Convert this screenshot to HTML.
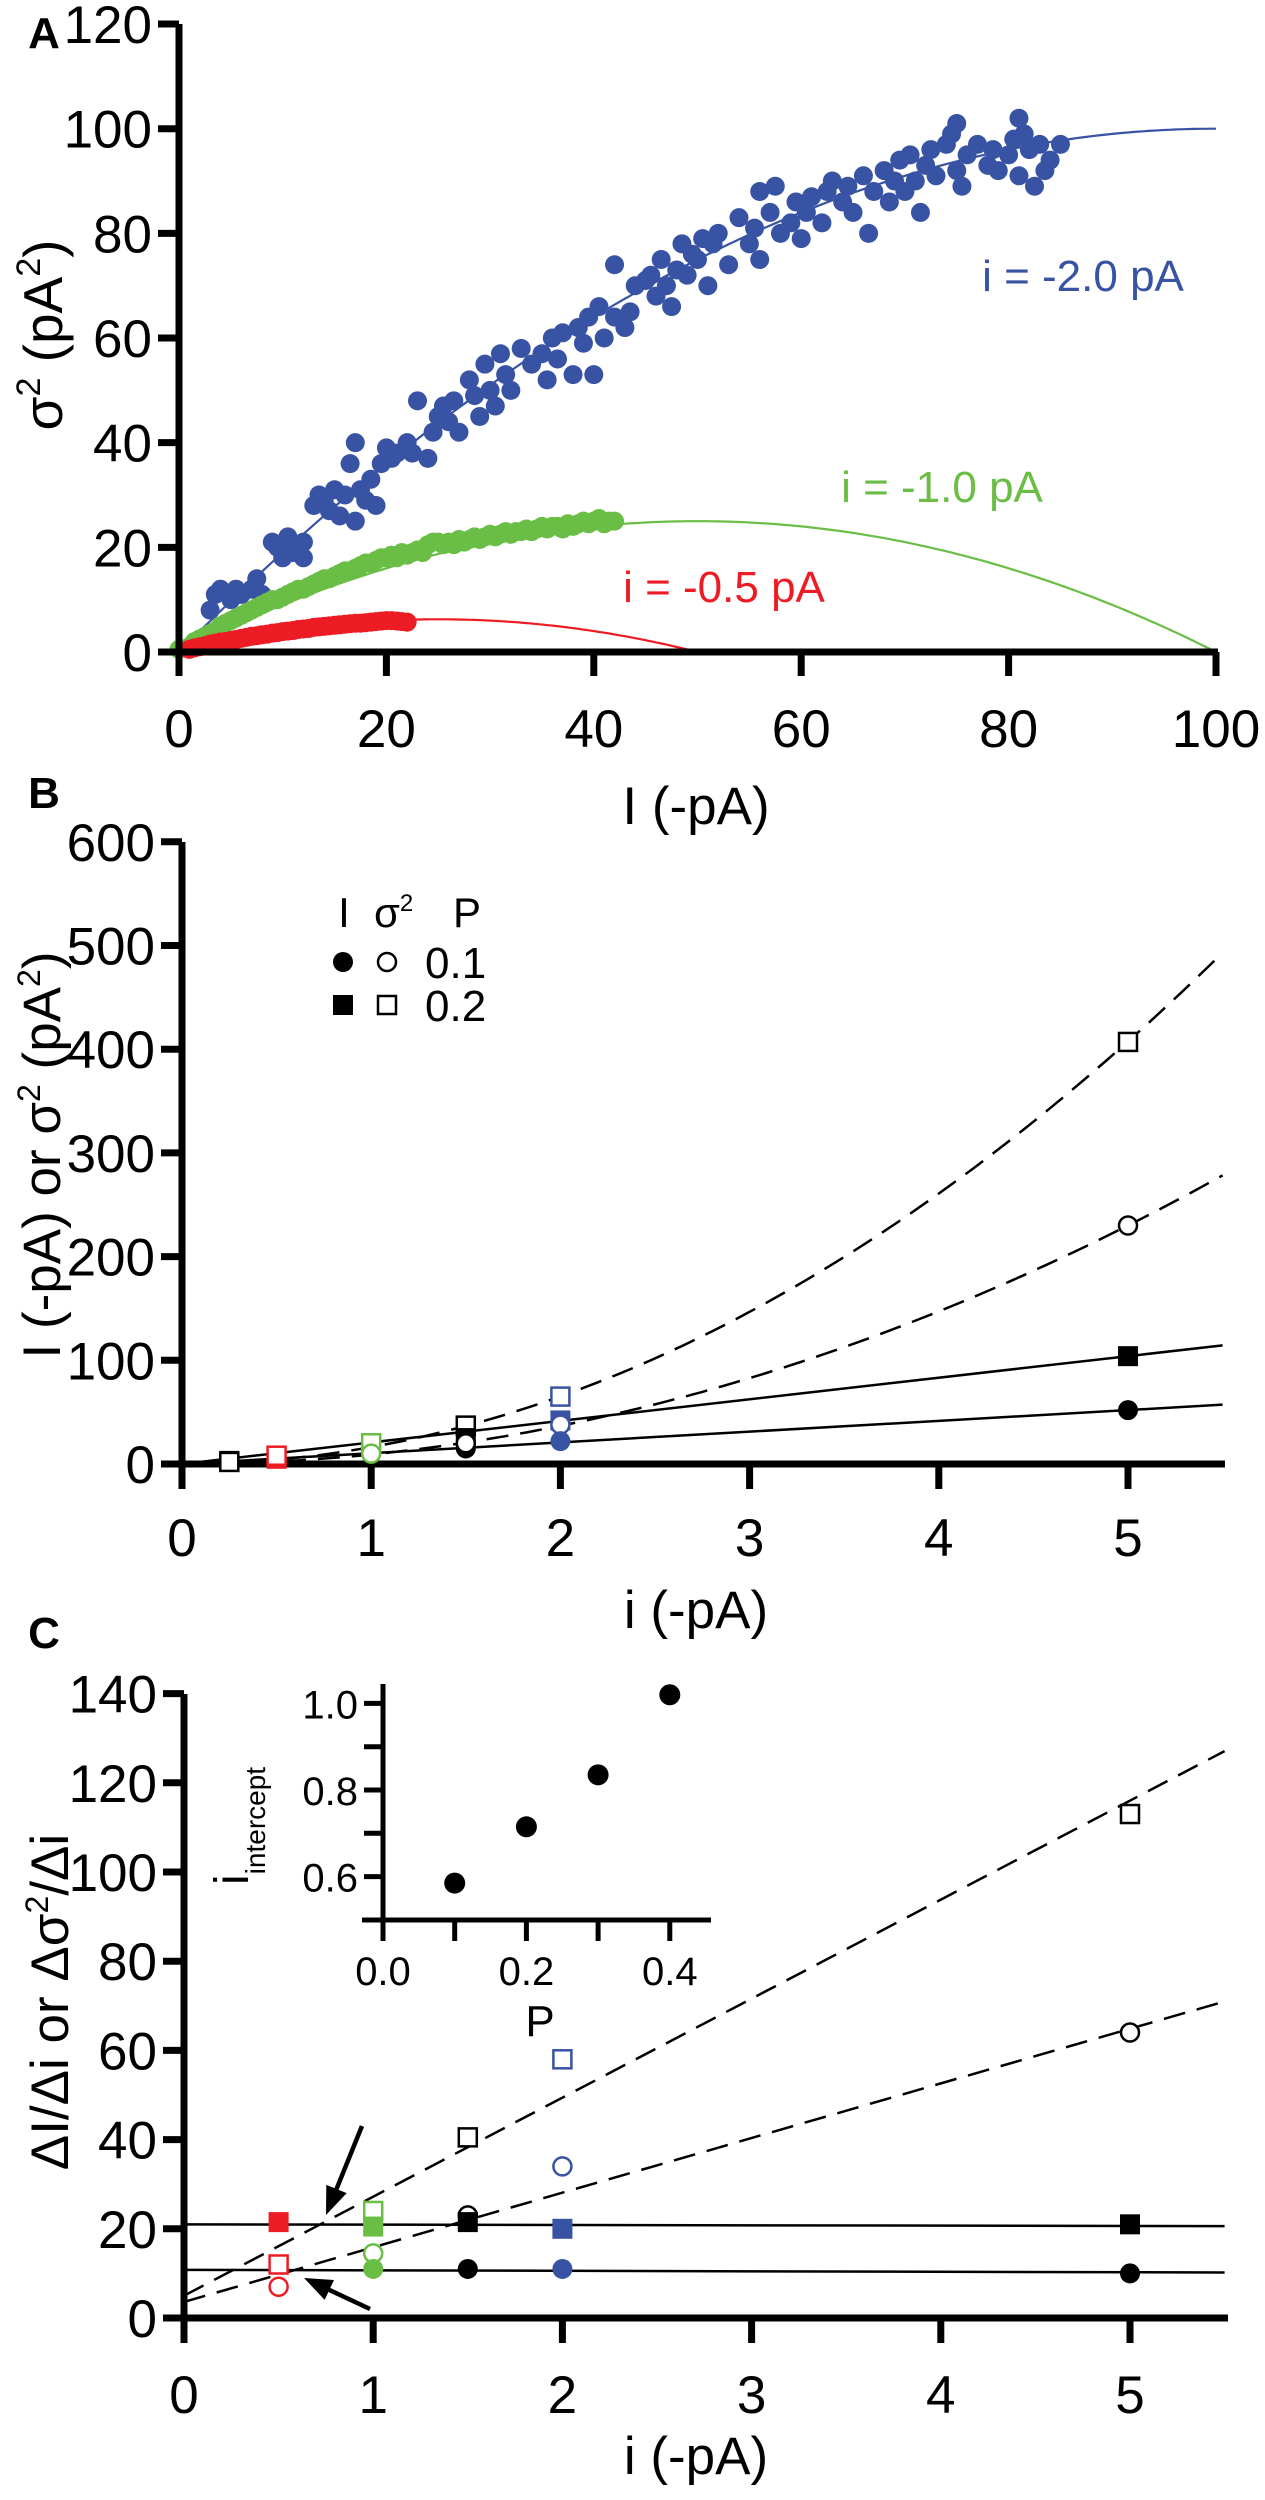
<!DOCTYPE html>
<html><head><meta charset="utf-8"><style>
html,body{margin:0;padding:0;background:#fff}
svg{display:block}
text{font-family:"Liberation Sans",sans-serif;fill:#000}
</style></head><body>
<svg id="fig" width="1265" height="2500" viewBox="0 0 1265 2500" xmlns="http://www.w3.org/2000/svg">
<text x="44" y="48" font-size="44" font-weight="bold" text-anchor="middle">A</text>
<text x="44" y="808" font-size="44" font-weight="bold" text-anchor="middle">B</text>
<text x="44" y="1648" font-size="44" font-weight="bold" text-anchor="middle">C</text>
</svg>
<script>
// ===== Panel A data =====
const blueI=[3,3.5,4,5,5.5,6,7,7.5,8,9,9.5,10,10.5,11,11.5,12,12,13,13.5,14,14.5,15,15.5,16,16.5,17,17,17.5,18,18.5,19,19.5,20,20.5,21,22,22.5,23,24,24.5,25,25.5,26,26.5,27,28,28.5,29,29.5,30,30.5,31,31.5,32,33,34,35,35.5,36,36.5,37,38,38.5,39,39.5,40,40.5,41,42,42,43,43.5,44,45,45.5,46,46.5,47,47.5,48,48.5,49,49.5,50,50.5,51,51.5,52,53,54,55,55.5,56,56,57,57.5,58,59,59.5,60,60.5,61,62,62.5,63,64,64.5,65,66,66.5,67,68,68.5,69,69.5,70,70.5,71,71.5,72,72.5,73,74,74.5,75,75,75.5,76,77,78,78.5,79,80,80.5,81,81,81.5,82,82.5,83,83.5,84,85];
const blueV=[8,11,12,10,12,11,12,14,11,21,20,18,22,19,20,18,21,28,30,29,27,31,26,30,36,40,25,31,29,33,28,36,39,37,38,40,38,48,37,42,45,47,44,48,42,52,49,45,55,50,47,57,53,50,58,55,57,52,60,56,61,53,62,59,64,53,66,60,64,74,62,65,70,71,72,68,75,70,66,73,78,72,76,75,79,70,78,80,74,83,78,81,88,75,84,89,80,82,86,79,84,87,82,88,90,86,89,84,91,80,88,92,86,90,94,88,95,90,84,93,96,91,97,99,101,92,89,95,97,93,96,92,95,98,102,91,99,96,89,97,92,94,97];
const greenI=[0,1,1.5,2,2.5,3,3.5,4,4.5,5,5.5,6,6.5,7,7.5,8,8.5,9,9.5,10,10.5,11,11.5,12,12.5,13,13.5,14,14.5,15,15.5,16,16.5,17,17.5,18,18.5,19,19.5,20,20.5,21,21.5,22,22.5,23,23.5,24,24.5,25,25.5,26,26.5,27,27.5,28,28.5,29,29.5,30,30.5,31,31.5,32,32.5,33,33.5,34,34.5,35,35.5,36,36.5,37,37.5,38,38.5,39,39.5,40,40.5,41,41.5,42];
const greenV=[0.5,1,2,2.5,3,3.5,4,5,5.5,6,6.5,7,7.5,8,8.5,9,9.5,10,10,10.5,11,11.5,12,12,12.5,13,13.5,14,14,14.5,15,15.5,15.5,16,16.5,17,17,17.5,18,18,18.5,18,19,18.5,19,19.5,19,20.5,21,21,20.5,21,20.5,21.5,21,21.5,22,21.5,22,22.5,22,22.5,23,22.5,23,23,23.5,23,23.5,24,23.5,24,24,23.5,24.5,24,24.5,25,24.5,25,25.5,24.5,25,25];
const redI=[1,1.5,2,2.5,3,3.5,4,4.5,5,5.5,6,6.5,7,7.5,8,8.5,9,9.5,10,10.5,11,11.5,12,12.5,13,13.5,14,14.5,15,15.5,16,16.5,17,17.5,18,18.5,19,19.5,20,20.5,21,21.5,22];
const redV=[0.5,0.8,1,1.2,1.5,1.7,1.9,2,2.2,2.4,2.6,2.8,3,3.1,3.3,3.4,3.6,3.7,3.9,4,4.1,4.3,4.4,4.5,4.7,4.8,4.9,5,5.1,5.2,5.3,5.4,5.5,5.5,5.6,5.7,5.8,5.9,6,6,5.9,5.8,5.7];
const fitSingleI=[2.0,1.0,0.5];
const fitN=[100,100,100];
const fitIMax=[100,100,50];
const aXTicks=[0,20,40,60,80,100];
const aYTicks=[0,20,40,60,80,100,120];
// ===== Panel B data =====
const bXTicks=[0,1,2,3,4,5];
const bYTicks=[0,100,200,300,400,500,600];
const bPoints_i=[0.25,0.25,0.5,0.5,1,1,1.5,1.5,1.5,1.5,2,2,2,2,5,5,5,5];
const bPoints_v=[3,2,5,8,20,10,37,25,15,20,65,42,38,22,407,104,230,52];
const bPoints_shape=['sq','osq','sq','osq','osq','oc','osq','sq','c','oc','osq','sq','oc','c','osq','sq','oc','c'];
const bPoints_col=['k','k','r','r','g','g','k','k','k','k','b','b','b','b','k','k','k','k'];
const bISlope=[10.4,20.8];
const bVarCoef=[9.2,16.3];
// ===== Panel C data =====
const cXTicks=[0,1,2,3,4,5];
const cYTicks=[0,20,40,60,80,100,120,140];
const cPoints_i=[0.5,0.5,0.5,1,1,1,1,1.5,1.5,1.5,1.5,2,2,2,2,5,5,5,5];
const cPoints_v=[21.5,12,7,24,20.5,14.5,11,40.5,23,21.5,11,58,34,20,11,113,64,21,10];
const cPoints_shape=['sq','osq','oc','osq','sq','oc','c','osq','oc','sq','c','osq','oc','sq','c','osq','oc','sq','c'];
const cPoints_col=['r','r','r','g','g','g','g','k','k','k','k','b','b','b','b','k','k','k','k'];
const cSolidStart=[21,10.8];
const cSolidEnd=[20.6,10.2];
const cDashIntercept=[5,3.6];
const cDashSlope=[22.2,12.25];
const insetP=[0.1,0.2,0.3,0.4];
const insetV=[0.585,0.715,0.835,1.02];
const insetXTicks=[0.0,0.2,0.4];
const insetYTicks=[0.6,0.8,1.0];

const svg=document.getElementById('fig');
const NS='http://www.w3.org/2000/svg';
const COL={k:'#000',r:'#ed1c24',g:'#6abd45',b:'#3953a4'};
function mk(tag,attrs,parent){const e=document.createElementNS(NS,tag);for(const k in attrs)e.setAttribute(k,attrs[k]);(parent||svg).appendChild(e);return e;}
function txt(x,y,s,size,anchor,parent){const t=mk('text',{x:x,y:y,'font-size':size,'text-anchor':anchor||'middle'},parent);t.textContent=s;return t;}

// ---------- Panel A ----------
const ax=v=>179+v*10.37, ay=v=>652-v*5.233;
const gA=mk('g',{});


const curveCols=['#3953a4','#6abd45','#ed1c24'];
for(let k=0;k<3;k++){let d='';for(let s=0;s<=200;s++){const I=fitIMax[k]*s/200;const v=fitSingleI[k]*I-I*I/fitN[k];d+=(s?'L':'M')+ax(I).toFixed(1)+','+ay(v).toFixed(1);}
 const p=mk('path',{d:d,fill:'none',stroke:curveCols[k],'stroke-width':2.2},gA);
 
 }
function dots(I,V,c,name){const g=mk('g',{fill:c},gA);
 
 
 for(let j=0;j<I.length;j++){mk('circle',{cx:ax(I[j]),cy:ay(V[j]),r:9.5},g);}}
dots(blueI,blueV,'#3953a4','scatter-i-2');
dots(greenI,greenV,'#6abd45','scatter-i-1');
dots(redI,redV,'#ed1c24','scatter-i-0.5');
mk('line',{x1:179,y1:24,x2:179,y2:676,stroke:'#000','stroke-width':7},gA);
mk('line',{x1:176,y1:652,x2:1218,y2:652,stroke:'#000','stroke-width':7},gA);
aYTicks.forEach(v=>{mk('line',{x1:158,y1:ay(v),x2:179,y2:ay(v),stroke:'#000','stroke-width':7},gA);txt(152,ay(v)+19,v,53,'end',gA);});
aXTicks.forEach(v=>{mk('line',{x1:ax(v),y1:652,x2:ax(v),y2:676,stroke:'#000','stroke-width':7},gA);txt(ax(v),747,v,53,'middle',gA);});
let t=txt(696,824,'I (-pA)',53,'middle',gA);
t=mk('text',{x:0,y:0,'font-size':55,'text-anchor':'middle',transform:'translate(62,335) rotate(-90)'},gA);
t.innerHTML='σ<tspan dy="-22" font-size="34">2</tspan><tspan dy="22"> (pA</tspan><tspan dy="-22" font-size="34">2</tspan><tspan dy="22">)</tspan>';

[['i = -2.0 pA',1083,291,'#3953a4'],['i = -1.0 pA',942,502,'#6abd45'],['i = -0.5 pA',724,602,'#ed1c24']].forEach((L,k)=>{const e=txt(L[1],L[2],L[0],44,'middle',gA);e.setAttribute('fill',L[3]);e.style.fill=L[3];
 
 });

function marker(g,x,y,shape,col){const c=COL[col];
 if(shape==='sq')mk('rect',{x:x-10,y:y-10,width:20,height:20,fill:c},g);
 else if(shape==='osq')mk('rect',{x:x-9,y:y-9,width:18,height:18,fill:'#fff',stroke:c,'stroke-width':2.5},g);
 else if(shape==='c')mk('circle',{cx:x,cy:y,r:10,fill:c},g);
 else mk('circle',{cx:x,cy:y,r:9,fill:'#fff',stroke:c,'stroke-width':2.5},g);}

// ---------- Panel B ----------
const bx=v=>182+v*189.2, by=v=>1464-v*1.037;
const gB=mk('g',{});


for(let k=0;k<2;k++){
 let p=mk('line',{x1:bx(0),y1:by(0),x2:bx(5.5),y2:by(bISlope[k]*5.5),stroke:'#000','stroke-width':2.5},gB);
 
 
 let d='';for(let s=0;s<=100;s++){const i=5.5*s/100;d+=(s?'L':'M')+bx(i).toFixed(1)+','+by(bVarCoef[k]*i*i).toFixed(1);}
 p=mk('path',{d:d,fill:'none',stroke:'#000','stroke-width':2.5,'stroke-dasharray':'22 12'},gB);
 
 }
mk('line',{x1:182,y1:842,x2:182,y2:1489,stroke:'#000','stroke-width':7},gB);
mk('line',{x1:179,y1:1464,x2:1225,y2:1464,stroke:'#000','stroke-width':7},gB);
bYTicks.forEach(v=>{mk('line',{x1:161,y1:by(v),x2:182,y2:by(v),stroke:'#000','stroke-width':7},gB);txt(155,by(v)+19,v,53,'end',gB);});
bXTicks.forEach(v=>{if(v>0)mk('line',{x1:bx(v),y1:1464,x2:bx(v),y2:1489,stroke:'#000','stroke-width':7},gB);txt(bx(v),1556,v,53,'middle',gB);});
const gBp=mk('g',{},gB);


for(let j=0;j<bPoints_i.length;j++)marker(gBp,bx(bPoints_i[j]),by(bPoints_v[j]),bPoints_shape[j],bPoints_col[j]);
t=txt(696,1628,'i (-pA)',53,'middle',gB);
t=mk('text',{x:0,y:0,'font-size':53,'text-anchor':'middle',transform:'translate(60,1155) rotate(-90)'},gB);
t.innerHTML='I (-pA) or σ<tspan dy="-20" font-size="32">2</tspan><tspan dy="20"> (pA</tspan><tspan dy="-20" font-size="32">2</tspan><tspan dy="20">)</tspan>';

const gL=mk('g',{},gB);


txt(344,927,'I',42,'middle',gL);
t=mk('text',{x:374,y:927,'font-size':42},gL);t.innerHTML='σ<tspan dy="-16" font-size="24">2</tspan>';
txt(467,927,'P',42,'middle',gL);
marker(gL,343,962,'c','k');marker(gL,387,962,'oc','k');txt(425,978,'0.1',44,'start',gL);
marker(gL,343,1005,'sq','k');marker(gL,387,1005,'osq','k');txt(425,1021,'0.2',44,'start',gL);

// ---------- Panel C ----------
const cx=v=>184+v*189.2, cy=v=>2318-v*4.46;
const gC=mk('g',{});


for(let k=0;k<2;k++){
 let p=mk('line',{x1:cx(0),y1:cy(cSolidStart[k]),x2:cx(5.5),y2:cy(cSolidEnd[k]),stroke:'#000','stroke-width':2.5},gC);
 
 
 p=mk('line',{x1:cx(0),y1:cy(cDashIntercept[k]),x2:cx(5.5),y2:cy(cDashIntercept[k]+cDashSlope[k]*5.5),stroke:'#000','stroke-width':2.5,'stroke-dasharray':'22 12'},gC);
 
 }
mk('line',{x1:184,y1:1694,x2:184,y2:2343,stroke:'#000','stroke-width':7},gC);
mk('line',{x1:181,y1:2318,x2:1228,y2:2318,stroke:'#000','stroke-width':7},gC);
cYTicks.forEach(v=>{mk('line',{x1:163,y1:cy(v),x2:184,y2:cy(v),stroke:'#000','stroke-width':7},gC);txt(157,cy(v)+19,v,53,'end',gC);});
cXTicks.forEach(v=>{if(v>0)mk('line',{x1:cx(v),y1:2318,x2:cx(v),y2:2343,stroke:'#000','stroke-width':7},gC);txt(cx(v),2413,v,53,'middle',gC);});
const gCp=mk('g',{},gC);


for(let j=0;j<cPoints_i.length;j++)marker(gCp,cx(cPoints_i[j]),cy(cPoints_v[j]),cPoints_shape[j],cPoints_col[j]);
function arrow(x1,y1,x2,y2,name){const g=mk('g',{},gC);
 
 
 const a=Math.atan2(y2-y1,x2-x1),L=28,W=11;
 const bxp=x2-L*Math.cos(a),byp=y2-L*Math.sin(a);
 mk('line',{x1:x1,y1:y1,x2:bxp,y2:byp,stroke:'#000','stroke-width':4.5},g);
 mk('polygon',{points:`${x2},${y2} ${bxp+W*Math.sin(a)},${byp-W*Math.cos(a)} ${bxp-W*Math.sin(a)},${byp+W*Math.cos(a)}`,fill:'#000'},g);}
arrow(362,2126,326,2215,'arrow-upper');
arrow(370,2309,304,2278,'arrow-lower');
t=txt(696,2474,'i (-pA)',53,'middle',gC);
t=mk('text',{x:0,y:0,'font-size':53,'text-anchor':'middle',transform:'translate(68,2002) rotate(-90)'},gC);
t.innerHTML='ΔI/Δi or Δσ<tspan dy="-20" font-size="32">2</tspan><tspan dy="20">/Δi</tspan>';

// inset
const ix=v=>383+v*717, iy=v=>1790-(v-0.8)*433;
const gI=mk('g',{},gC);


mk('line',{x1:383,y1:1684,x2:383,y2:1941,stroke:'#000','stroke-width':5},gI);
mk('line',{x1:362,y1:1920,x2:711,y2:1920,stroke:'#000','stroke-width':5},gI);
[0.6,0.7,0.8,0.9,1.0].forEach(v=>mk('line',{x1:364,y1:iy(v),x2:383,y2:iy(v),stroke:'#000','stroke-width':5},gI));
insetYTicks.forEach(v=>txt(358,iy(v)+15,v.toFixed(1),40,'end',gI));
[0.1,0.2,0.3,0.4].forEach(v=>mk('line',{x1:ix(v),y1:1920,x2:ix(v),y2:1941,stroke:'#000','stroke-width':5},gI));
insetXTicks.forEach(v=>txt(ix(v),1985,v.toFixed(1),40,'middle',gI));
txt(540,2036,'P',44,'middle',gI);
t=mk('text',{x:0,y:0,'font-size':48,'text-anchor':'start',transform:'translate(248,1885) rotate(-90)'},gI);
t.innerHTML='i<tspan dy="17" font-size="28">intercept</tspan>';

for(let j=0;j<insetP.length;j++){const e=mk('circle',{cx:ix(insetP[j]),cy:iy(insetV[j]),r:10.5,fill:'#000'},gI);
 
 }
</script>
</body></html>
